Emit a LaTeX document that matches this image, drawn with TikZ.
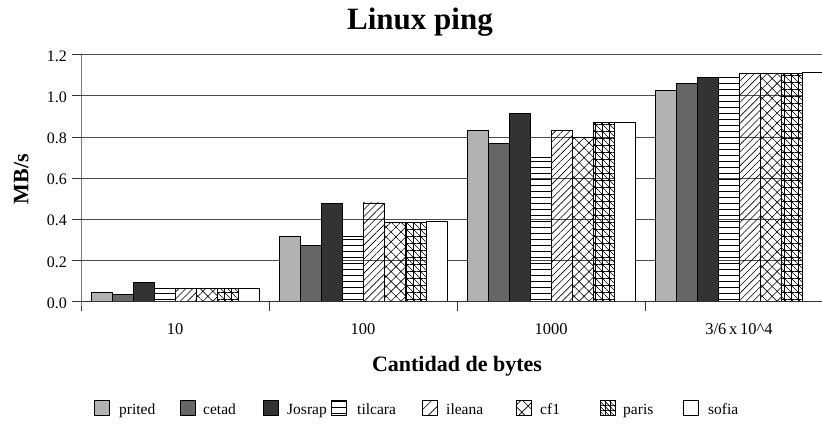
\documentclass[tikz,border=0pt]{standalone}
\usepackage{fontspec}
\setmainfont{Liberation Serif}
\usetikzlibrary{patterns.meta}
\tikzset{
  bar/.style={draw=black, line width=0.8pt},
  prited/.style={bar, fill=black!30},
  cetad/.style={bar, fill=black!60},
  josrap/.style={bar, fill=black!80},
  tilcara/.style={bar, pattern={Lines[angle=0,distance=6pt,line width=0.7pt]}},
  ileana/.style={bar, pattern={Lines[angle=45,distance=5pt,line width=0.6pt]}},
  cfone/.style={bar, pattern={Hatch[angle=45,distance=7pt,line width=0.6pt]}},
  parisgrid/.style={pattern={Hatch[angle=0,distance=7pt,line width=0.6pt]}},
  parisdiag/.style={bar, pattern={Lines[angle=-45,distance=4.95pt,line width=0.6pt]}},
  sofia/.style={bar, fill=white},
  gridline/.style={draw=black!70, line width=0.8pt},
  axisline/.style={draw=black!80, line width=0.9pt},
  ticklabel/.style={font=\fontsize{16}{16}\selectfont, inner sep=0pt},
  catlabel/.style={font=\fontsize{16.5}{16.5}\selectfont, inner sep=0pt, anchor=base},
  legtext/.style={font=\fontsize{15.5}{15.5}\selectfont, inner sep=0pt, anchor=base west},
  legbox/.style={draw=black, line width=0.7pt},
}
\newcommand\bargroup[9]{%
  \path[prited]  (#1,0) rectangle ++(21,#2);
  \path[cetad]   (#1+21,0) rectangle ++(21,#3);
  \path[josrap]  (#1+42,0) rectangle ++(21,#4);
  \path[tilcara] (#1+63,0) rectangle ++(21,#5);
  \path[ileana]  (#1+84,0) rectangle ++(21,#6);
  \path[cfone]   (#1+105,0) rectangle ++(21,#7);
  \path[parisgrid] (#1+126,0) rectangle ++(21,#8);
  \path[parisdiag] (#1+126,0) rectangle ++(21,#8);
  \path[sofia]   (#1+147,0) rectangle ++(21,#9);
}
\begin{document}
\begin{tikzpicture}[x=1pt,y=1pt]
\useasboundingbox (0,0) rectangle (822,425);
% title
\node[font=\fontsize{31}{31}\selectfont\bfseries, inner sep=0pt, anchor=base] (title) at (420,395.5) {Linux ping};
% plot
\begin{scope}[yshift=123.3pt, y=205.8pt]
  \foreach \v in {0.2,0.4,0.6,0.8,1.0,1.2} {
    \draw[gridline] (81,\v) -- (830,\v);
  }
  \bargroup{91}{.047}{.037}{.094}{.063}{.063}{.063}{.063}{.063}
  \bargroup{279}{.318}{.274}{.48}{.318}{.48}{.386}{.386}{.39}
  \bargroup{467}{.833}{.768}{.913}{.70}{.833}{.80}{.872}{.872}
  \bargroup{655}{1.025}{1.063}{1.089}{1.089}{1.108}{1.108}{1.108}{1.113}
  % axes
  \draw[axisline] (81,0) -- (830,0);
  \draw[axisline] (81,1.2) -- (81,0) -- ++(0,-9.3pt);
  \foreach \x in {269,457,645} {
    \draw[axisline] (\x,0) -- ++(0,-9.3pt);
  }
  \foreach \v/\t in {0.0/0.0,0.2/0.2,0.4/0.4,0.6/0.6,0.8/0.8,1.0/1.0,1.2/1.2} {
    \draw[axisline] (72,\v) -- (81,\v);
    \node[ticklabel, anchor=base east] (yl\t) at ([yshift=-6.6pt]67,\v) {\t};
  }
\end{scope}
% category labels
\node[catlabel] (c1) at (175,90) {10};
\node[catlabel] (c2) at (363,90) {100};
\node[catlabel] (c3) at (551,90) {1000};
\node[catlabel] (c4) at (739,90) {3/6\,x\,10\textasciicircum4};
% axis titles
\node[font=\fontsize{22}{22}\selectfont\bfseries, inner sep=0pt, anchor=base] (xlab) at (457,53.3) {Cantidad de bytes};
\node[font=\fontsize{22}{22}\selectfont\bfseries, inner sep=0pt, anchor=base, rotate=90] (ylab) at (28.3,246) {MB/s};
% legend
\path[legbox, fill=black!30] (94,9.5) rectangle ++(15,15);
\node[legtext] (l1) at (119,10) {prited};
\path[legbox, fill=black!60] (180,9.5) rectangle ++(15,15);
\node[legtext] (l2) at (203,10) {cetad};
\path[legbox, fill=black!80] (263,9.5) rectangle ++(15,15);
\node[legtext] (l3) at (287,10) {Josrap};
\path[legbox, pattern={Lines[angle=0,distance=6pt,line width=0.7pt]}] (331,9.5) rectangle ++(15,15);
\node[legtext] (l4) at (357,10) {tilcara};
\path[legbox, pattern={Lines[angle=45,distance=8pt,line width=0.6pt]}] (422,9.5) rectangle ++(15,15);
\node[legtext] (l5) at (446,10) {ileana};
\path[legbox, pattern={Hatch[angle=45,distance=9pt,line width=0.6pt]}] (516,9.5) rectangle ++(15,15);
\node[legtext] (l6) at (540,10) {cf1};
\path[pattern={Hatch[angle=0,distance=5pt,line width=0.6pt]}] (600,9.5) rectangle ++(15,15);
\path[legbox, pattern={Lines[angle=-45,distance=3.5pt,line width=0.6pt]}] (600,9.5) rectangle ++(15,15);
\node[legtext] (l7) at (623,10) {paris};
\path[legbox, fill=white] (683,9.5) rectangle ++(15,15);
\node[legtext] (l8) at (708,10) {sofia};
\end{tikzpicture}
\end{document}
